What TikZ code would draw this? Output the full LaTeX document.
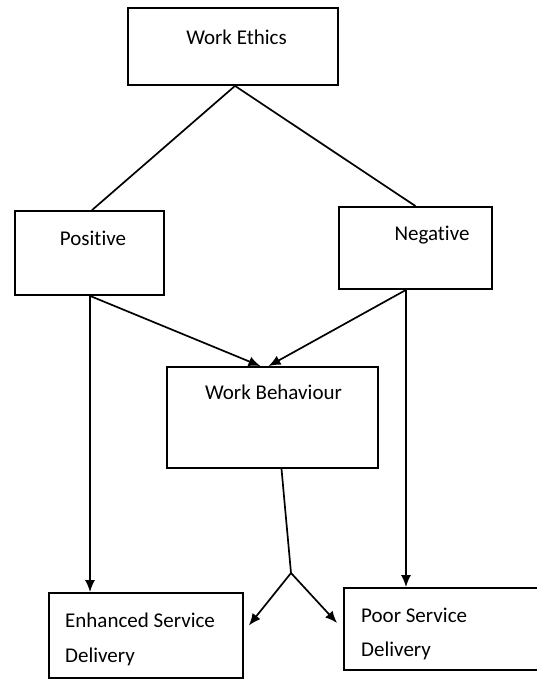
\documentclass[tikz,border=0pt]{standalone}
\usepackage{fontspec}
\setmainfont[Ligatures=NoCommon]{Carlito}
\usetikzlibrary{arrows.meta}
\begin{document}
\begin{tikzpicture}[x=1pt,y=-1pt,
  box/.style={draw,line width=1.8pt,inner sep=0pt},
  lbl/.style={inner sep=0pt,font=\fontsize{21}{25}\selectfont},
  link/.style={line width=1.7pt},
  arr/.style={line width=1.7pt,-{Latex[length=12pt,width=10pt]}}]
  \fill[white] (0,0) rectangle (537,679);
  \useasboundingbox (0,0) rectangle (537,679);

  % boxes
  \node[box,minimum width=210pt,minimum height=77pt] (eth) at (233,46.5) {};
  \node[box,minimum width=149pt,minimum height=84pt] (pos) at (89.5,253) {};
  \node[box,minimum width=153pt,minimum height=82pt] (neg) at (415.5,248) {};
  \node[box,minimum width=211pt,minimum height=101pt] (wb) at (272.5,417.5) {};
  \node[box,minimum width=194pt,minimum height=85pt] (enh) at (146,635.5) {};
  \node[box,minimum width=256pt,minimum height=82pt] (poor) at (472,629) {};

  % labels
  \node[lbl,anchor=base] (ethT) at (236.5,45) {Work Ethics};
  \node[lbl,anchor=base] (posT) at (93,245) {Positive};
  \node[lbl,anchor=base] (negT) at (432,240) {Negative};
  \node[lbl,anchor=base] (wbT) at (273.5,399) {Work Behaviour};
  \node[lbl,anchor=base west] (enh1) at (65,627) {Enhanced Service};
  \node[lbl,anchor=base west] (enh2) at (65,662) {Delivery};
  \node[lbl,anchor=base west] (poor1) at (361,622) {Poor Service};
  \node[lbl,anchor=base west] (poor2) at (361,656) {Delivery};

  % helper columns and the split point
  \coordinate (posx) at (90,0);
  \coordinate (negx) at (406,0);
  \coordinate (split) at (291,573);

  % connectors
  \draw[link] ([xshift=2pt]eth.south) -- ([xshift=2.5pt]pos.north);
  \draw[link] ([xshift=2pt]eth.south) -- (neg.north);
  \draw[arr] (pos.south -| posx) -- (enh.north -| posx);
  \draw[arr] (neg.south -| negx) -- (poor.north -| negx);
  \draw[arr] (pos.south -| posx) -- ([xshift=-12pt]wb.north);
  \draw[arr] (neg.south -| negx) -- ([xshift=-4pt]wb.north);
  \draw[link] ([xshift=9pt]wb.south) -- (split);
  \draw[arr] (split) -- ([shift={(5,-10)}]enh.east);
  \draw[arr] (split) -- ([shift={(-6,-6)}]poor.west);
\end{tikzpicture}
\end{document}
